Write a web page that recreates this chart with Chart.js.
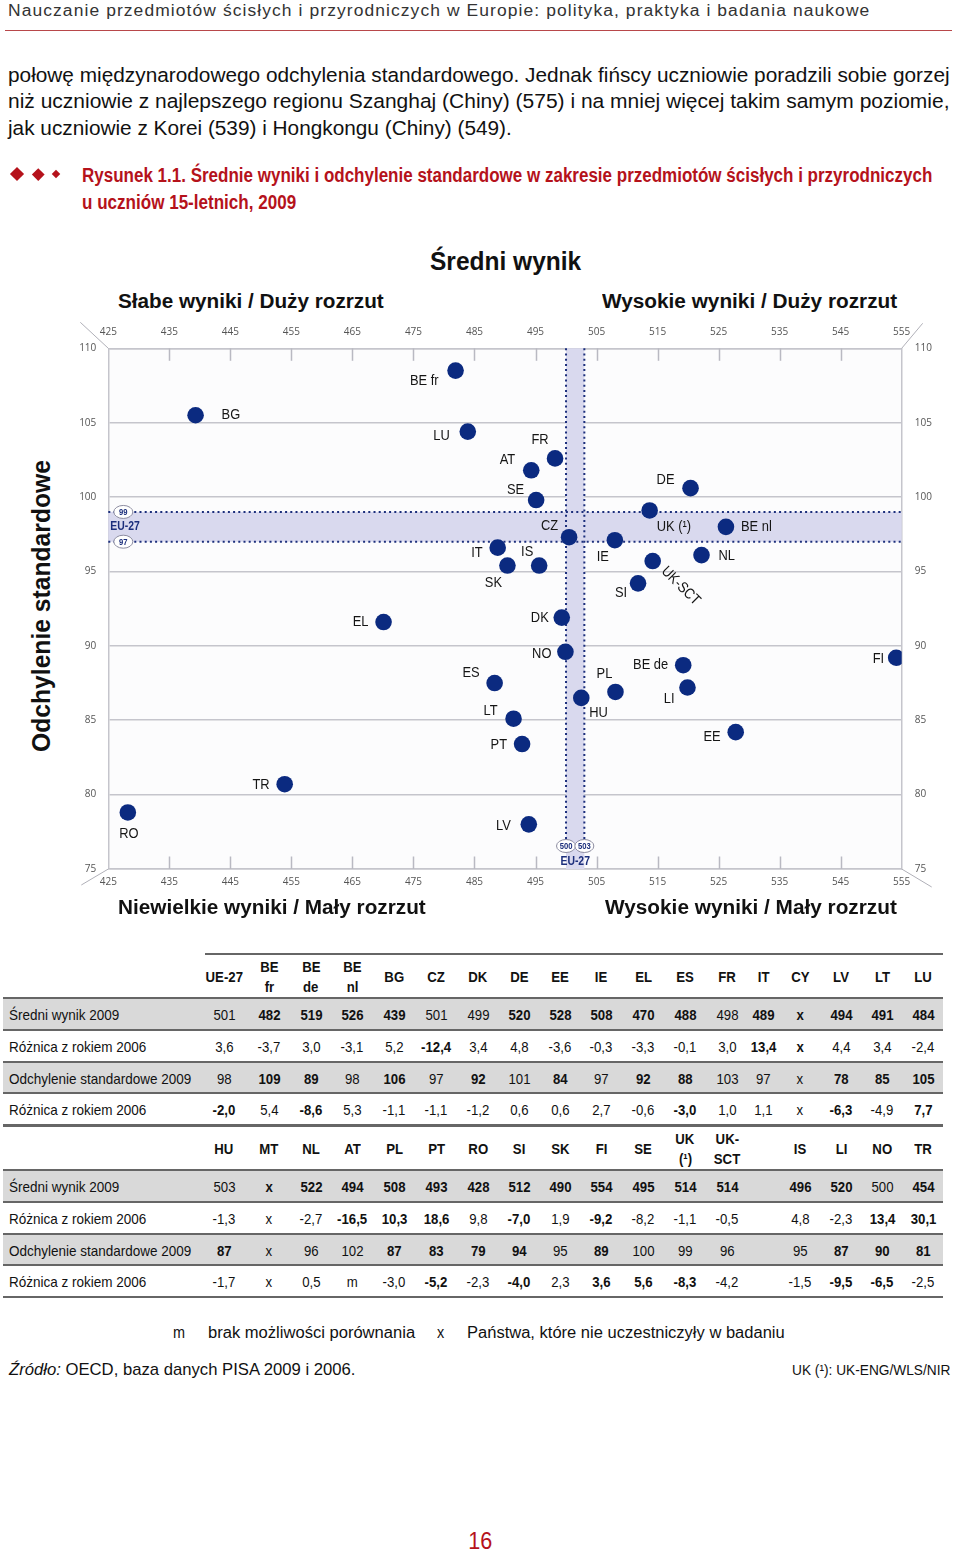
<!DOCTYPE html>
<html><head><meta charset="utf-8">
<script src="https://cdn.jsdelivr.net/npm/chart.js@4.4.1/dist/chart.umd.min.js"></script>
<style>
html,body{margin:0;padding:0;background:#fff;}
body{width:960px;height:1553px;position:relative;overflow:hidden;font-family:"Liberation Sans",Arial,sans-serif;color:#111;}
.t{position:absolute;white-space:nowrap;display:inline-block;}
.ln{position:absolute;}
.dm{position:absolute;background:#b5121b;transform:rotate(45deg);}
#chartWrap{position:absolute;left:60px;top:318px;width:880px;height:580px;}
</style></head><body>
<div id="chartWrap"><canvas id="c" width="880" height="580"></canvas></div>
<script>
// ---------------- DATA ----------------
const countries = ['BE fr','BG','LU','FR','AT','SE','CZ','IT','SK','IS','IE','UK','DE','BE nl','NL','UK-SCT','SI','EL','ES','LT','PT','TR','RO','LV','DK','NO','BE de','LI','PL','HU','EE','FI'];
const meanScore = [481.9,439.3,483.9,498.2,494.3,495.1,500.5,488.8,490.4,495.6,508.0,513.7,520.4,526.2,522.2,514.2,511.8,470.1,488.3,491.4,492.8,453.9,428.2,493.9,499.3,499.9,519.2,519.9,508.1,502.5,527.8,554.1];
const stdDeviation = [108.5,105.5,104.4,102.6,101.8,99.8,97.3,96.6,95.4,95.4,97.1,99.1,100.6,98.0,96.1,95.7,94.2,91.6,87.5,85.1,83.4,80.7,78.8,78.0,91.9,89.6,88.7,87.2,86.9,86.5,84.2,89.2];
const xTickLabels = [425,435,445,455,465,475,485,495,505,515,525,535,545,555];
const yTickLabels = [75,80,85,90,95,100,105,110];
const eu27Mean = [500,503];
const eu27Sd = [97,99];

// table 1
const tab1Cols = ['UE-27','BE\nfr','BE\nde','BE\nnl','BG','CZ','DK','DE','EE','IE','EL','ES','FR','IT','CY','LV','LT','LU'];
const tab1Mean   = ['501','482','519','526','439','501','499','520','528','508','470','488','498','489','x','494','491','484'];
const tab1MeanSig= [0,1,1,1,1,0,0,1,1,1,1,1,0,1,1,1,1,1];
const tab1MeanDiff=['3,6','-3,7','3,0','-3,1','5,2','-12,4','3,4','4,8','-3,6','-0,3','-3,3','-0,1','3,0','13,4','x','4,4','3,4','-2,4'];
const tab1MeanDiffSig=[0,0,0,0,0,1,0,0,0,0,0,0,0,1,1,0,0,0];
const tab1Sd     = ['98','109','89','98','106','97','92','101','84','97','92','88','103','97','x','78','85','105'];
const tab1SdSig  = [0,1,1,0,1,0,1,0,1,0,1,1,0,0,0,1,1,1];
const tab1SdDiff = ['-2,0','5,4','-8,6','5,3','-1,1','-1,1','-1,2','0,6','0,6','2,7','-0,6','-3,0','1,0','1,1','x','-6,3','-4,9','7,7'];
const tab1SdDiffSig=[1,0,1,0,0,0,0,0,0,0,0,1,0,0,0,1,0,1];
// table 2
const tab2Cols = ['HU','MT','NL','AT','PL','PT','RO','SI','SK','FI','SE','UK\n(¹)','UK-\nSCT','','IS','LI','NO','TR'];
const tab2Mean   = ['503','x','522','494','508','493','428','512','490','554','495','514','514','','496','520','500','454'];
const tab2MeanSig= [0,1,1,1,1,1,1,1,1,1,1,1,1,0,1,1,0,1];
const tab2MeanDiff=['-1,3','x','-2,7','-16,5','10,3','18,6','9,8','-7,0','1,9','-9,2','-8,2','-1,1','-0,5','','4,8','-2,3','13,4','30,1'];
const tab2MeanDiffSig=[0,0,0,1,1,1,0,1,0,1,0,0,0,0,0,0,1,1];
const tab2Sd     = ['87','x','96','102','87','83','79','94','95','89','100','99','96','','95','87','90','81'];
const tab2SdSig  = [1,0,0,0,1,1,1,1,0,1,0,0,0,0,0,1,1,1];
const tab2SdDiff = ['-1,7','x','0,5','m','-3,0','-5,2','-2,3','-4,0','2,3','3,6','5,6','-8,3','-4,2','','-1,5','-9,5','-6,5','-2,5'];
const tab2SdDiffSig=[0,0,0,0,0,1,0,1,0,1,1,1,0,0,0,1,1,0];
const rowLabels = ['Średni wynik 2009','Różnica z rokiem 2006','Odchylenie standardowe 2009','Różnica z rokiem 2006'];

// ---------------- LAYOUT (not data) ----------------
const NAVY = '#0b2a80', BANDBLUE = '#1c2f7c', RED = '#b5121b';
// label placement: [dx, dy, align]
const labelPlace = {
 'BE fr':[-17,10,'right'],'BG':[26,0,'left'],'LU':[-18,4,'right'],'FR':[-15,-19,'center'],
 'AT':[-16,-10,'right'],'SE':[-12,-10,'right'],'CZ':[-11,-11,'right'],'IT':[-15,5,'right'],
 'SK':[-14,17,'center'],'IS':[-12,-14,'center'],'IE':[-12,17,'center'],'UK':[7,16,'left'],
 'DE':[-16,-8,'right'],'BE nl':[15,0,'left'],'NL':[17,1,'left'],'UK-SCT':[11,8,'rot'],
 'SI':[-17,10,'center'],'EL':[-15,0,'right'],'ES':[-15,-10,'right'],'LT':[-16,-8,'right'],
 'PT':[-15,1,'right'],'TR':[-15,1,'right'],'RO':[1,21,'center'],'LV':[-18,1,'right'],
 'DK':[-13,0,'right'],'NO':[-14,2,'right'],'BE de':[-15,0,'right'],'LI':[-13,11,'right'],
 'PL':[-11,-18,'center'],'HU':[8,15,'left'],'EE':[-15,5,'right'],'FI':[-12,1,'right']
};
const labelText = {'UK':'UK (¹)'};

// ---------------- TEXT HELPERS ----------------
function put(text, x, y, o) {
  o = o || {};
  const s = document.createElement('span');
  s.className = 't';
  const size = o.size || 16;
  s.style.fontSize = size + 'px';
  s.style.lineHeight = Math.round(size * 1.2) + 'px';
  if (o.weight) s.style.fontWeight = o.weight;
  if (o.color) s.style.color = o.color;
  if (o.ls) s.style.letterSpacing = o.ls + 'px';
  if (o.italic) s.style.fontStyle = 'italic';
  if (o.html) s.innerHTML = text; else s.textContent = text;
  document.body.appendChild(s);
  const w = s.offsetWidth, h = s.offsetHeight;
  const k = o.w ? o.w / w : (o.sx || 1);
  const align = o.align || 'left';
  const left = align === 'left' ? x : align === 'center' ? x - w / 2 : x - w;
  s.style.left = left + 'px';
  s.style.top = (y - h / 2) + 'px';
  s.style.transformOrigin = align === 'left' ? 'left center' : align === 'center' ? 'center center' : 'right center';
  s.style.transform = 'scaleX(' + k + ')';
  return s;
}
function hline(x, y, w, h, c) {
  const d = document.createElement('div');
  d.className = 'ln';
  d.style.left = x + 'px'; d.style.top = y + 'px'; d.style.width = w + 'px'; d.style.height = h + 'px';
  d.style.background = c;
  document.body.appendChild(d);
}

// header
put('Nauczanie przedmiotów ścisłych i przyrodniczych w Europie: polityka, praktyka i badania naukowe', 8, 10, {size:16, color:'#333', ls:1, w:862});
hline(5, 30, 947, 1, '#b8474a');
// paragraph
put('połowę międzynarodowego odchylenia standardowego. Jednak fińscy uczniowie poradzili sobie gorzej', 8, 74, {size:20.5, w:942});
put('niż uczniowie z najlepszego regionu Szanghaj (Chiny) (575) i na mniej więcej takim samym poziomie,', 8, 100, {size:20.5, w:942});
put('jak uczniowie z Korei (539) i Hongkongu (Chiny) (549).', 8, 127, {size:20.5, w:504});
// diamonds
[[17,174,10],[38,174,8.5],[56,174,6]].forEach(d => {
  const e = document.createElement('div'); e.className = 'dm';
  e.style.left = (d[0] - d[2] / 2) + 'px'; e.style.top = (d[1] - d[2] / 2) + 'px';
  e.style.width = d[2] + 'px'; e.style.height = d[2] + 'px';
  document.body.appendChild(e);
});
put('Rysunek 1.1. Średnie wyniki i odchylenie standardowe w zakresie przedmiotów ścisłych i przyrodniczych', 82, 175, {size:20, weight:'bold', color:RED, w:850});
put('u uczniów 15-letnich, 2009', 82, 202, {size:20, weight:'bold', color:RED, w:214});
// chart titles
put('Średni wynik', 430, 261, {size:25, weight:'bold', w:151});
put('Słabe wyniki / Duży rozrzut', 118, 301, {size:20, weight:'bold', w:266});
put('Wysokie wyniki / Duży rozrzut', 602, 301, {size:20, weight:'bold', w:295});
put('Niewielkie wyniki / Mały rozrzut', 118, 907, {size:20, weight:'bold', w:308});
put('Wysokie wyniki / Mały rozrzut', 605, 907, {size:20, weight:'bold', w:292});
// y title
(function(){
  const s = document.createElement('span'); s.className = 't';
  s.style.fontSize = '25px'; s.style.fontWeight = 'bold'; s.style.lineHeight = '30px';
  s.textContent = 'Odchylenie standardowe';
  document.body.appendChild(s);
  const w = s.offsetWidth, h = s.offsetHeight;
  s.style.left = (41 - w / 2) + 'px'; s.style.top = (606 - h / 2) + 'px';
  s.style.transformOrigin = 'center center';
  s.style.transform = 'rotate(-90deg) scaleX(' + (292 / w) + ')';
})();

// ---------------- TABLES ----------------
const colX = [224,269,311,352,394,436,478,519,560,601,643,685,727,763,800,841,882,923];
function buildTable(top, cols, rows, sigs, firstTopFromX) {
  const hdrH = 44, rowH = 31.8;
  hline(firstTopFromX, top - 1, 943 - firstTopFromX, 2, '#666');
  const hy = top + hdrH / 2 + 1;
  cols.forEach((c, i) => {
    if (!c) return;
    const parts = c.split('\n');
    if (parts.length === 1) put(parts[0], colX[i], hy, {size:15, weight:'bold', align:'center', sx:0.88});
    else {
      put(parts[0], colX[i], hy - 10, {size:15, weight:'bold', align:'center', sx:0.88});
      put(parts[1], colX[i], hy + 10, {size:15, weight:'bold', align:'center', sx:0.88});
    }
  });
  let y = top + hdrH;
  rows.forEach((r, ri) => {
    if (ri % 2 === 0) hline(3, y, 940, rowH, '#d9d9d9');
    hline(3, y - 1, 940, 2, '#666');
    const cy = y + rowH / 2 + 1;
    put(rowLabels[ri], 9, cy, {size:15, sx:0.9});
    r.forEach((v, i) => { if (v) put(v, colX[i], cy, {size:15, weight: sigs[ri][i] ? 'bold' : 'normal', align:'center', sx:0.88}); });
    y += rowH;
  });
  hline(3, y - 1, 940, 2, '#666');
}
buildTable(954, tab1Cols, [tab1Mean, tab1MeanDiff, tab1Sd, tab1SdDiff], [tab1MeanSig, tab1MeanDiffSig, tab1SdSig, tab1SdDiffSig], 205);
buildTable(1126, tab2Cols, [tab2Mean, tab2MeanDiff, tab2Sd, tab2SdDiff], [tab2MeanSig, tab2MeanDiffSig, tab2SdSig, tab2SdDiffSig], 3);

// footnotes
put('m', 173, 1332, {size:16, sx:0.9});
put('brak możliwości porównania', 208, 1332, {size:16, w:207});
put('x', 437, 1332, {size:16, sx:0.9});
put('Państwa, które nie uczestniczyły w badaniu', 467, 1332, {size:16, w:318});
put('<i>Źródło:</i> OECD, baza danych PISA 2009 i 2006.', 9, 1370, {size:17, w:346, html:true});
put('UK (¹): UK-ENG/WLS/NIR', 950, 1370, {size:15, w:158, align:'right'});
put('16', 480, 1540, {size:24, color:RED, align:'center', sx:0.9});

// ---------------- CHART ----------------
const tickFont = {family:'"Open Sans", "DejaVu Sans", sans-serif', size:10};
const tickColor = '#555';
const gridC = '#c5c5cc';

const decor = {
  id:'decor',
  beforeDatasetsDraw(chart) {
    const {ctx, chartArea:a, scales:{x, y}} = chart;
    ctx.save();
    ctx.fillStyle = '#d9d9ee';
    const y1 = y.getPixelForValue(eu27Sd[1]), y0 = y.getPixelForValue(eu27Sd[0]);
    ctx.fillRect(a.left, y1, a.right - a.left, y0 - y1);
    const x0 = x.getPixelForValue(eu27Mean[0]), x1 = x.getPixelForValue(eu27Mean[1]);
    ctx.fillRect(x0, a.top, x1 - x0, a.bottom - a.top);
    ctx.strokeStyle = BANDBLUE; ctx.lineWidth = 2; ctx.setLineDash([2, 3.2]);
    [y0, y1].forEach(py => { ctx.beginPath(); ctx.moveTo(a.left, py); ctx.lineTo(a.right, py); ctx.stroke(); });
    [x0, x1].forEach(px => { ctx.beginPath(); ctx.moveTo(px, a.top); ctx.lineTo(px, a.bottom - 30); ctx.stroke(); });
    ctx.setLineDash([]);
    ctx.strokeStyle = '#b9b9c2'; ctx.lineWidth = 1.5;
    xTickLabels.slice(1, -1).forEach(v => {
      const px = Math.round(x.getPixelForValue(v)) + 0.5;
      ctx.beginPath(); ctx.moveTo(px, a.top); ctx.lineTo(px, a.top + 12.5); ctx.stroke();
      ctx.beginPath(); ctx.moveTo(px, a.bottom); ctx.lineTo(px, a.bottom - 12.5); ctx.stroke();
    });
    ctx.strokeStyle = '#b0b0b8'; ctx.lineWidth = 1;
    [[a.left, a.top, -28, -26], [a.right, a.top, 21, -25], [a.left, a.bottom, -27, 16], [a.right, a.bottom, 30, 18]].forEach(d => {
      ctx.beginPath(); ctx.moveTo(d[0], d[1]); ctx.lineTo(d[0] + d[2], d[1] + d[3]); ctx.stroke();
    });
    function oval(cx, cy, txt) {
      ctx.beginPath(); ctx.ellipse(cx, cy, 9.5, 6.5, 0, 0, Math.PI * 2);
      ctx.fillStyle = '#fff'; ctx.fill(); ctx.strokeStyle = '#8c8ca0'; ctx.lineWidth = 1; ctx.stroke();
      ctx.fillStyle = BANDBLUE; ctx.font = 'bold 9px "Liberation Sans", Arial, sans-serif';
      ctx.textAlign = 'center'; ctx.textBaseline = 'middle';
      ctx.save(); ctx.translate(cx, cy + 0.5); ctx.scale(0.85, 1); ctx.fillText(txt, 0, 0); ctx.restore();
    }
    oval(a.left + 15, y1, String(eu27Sd[1]));
    oval(a.left + 15, y0, String(eu27Sd[0]));
    oval(x0, a.bottom - 23, String(eu27Mean[0]));
    oval(x1, a.bottom - 23, String(eu27Mean[1]));
    ctx.fillStyle = BANDBLUE; ctx.font = 'bold 13px "Liberation Sans", Arial, sans-serif';
    ctx.textBaseline = 'middle';
    ctx.save(); ctx.translate(a.left + 2, (y0 + y1) / 2); ctx.scale(0.8, 1); ctx.textAlign = 'left'; ctx.fillText('EU-27', 0, 0); ctx.restore();
    ctx.save(); ctx.translate((x0 + x1) / 2, a.bottom - 8); ctx.scale(0.8, 1); ctx.textAlign = 'center'; ctx.fillText('EU-27', 0, 0); ctx.restore();
    ctx.restore();
  },
  afterDatasetsDraw(chart) {
    const {ctx} = chart;
    const meta = chart.getDatasetMeta(0);
    ctx.save();
    ctx.fillStyle = '#151515';
    ctx.font = '15px "Liberation Sans", Arial, sans-serif';
    ctx.textBaseline = 'middle';
    countries.forEach((c, i) => {
      const p = meta.data[i];
      const pl = labelPlace[c];
      const t = labelText[c] || c;
      ctx.save();
      ctx.translate(p.x + pl[0], p.y + pl[1]);
      if (pl[2] === 'rot') { ctx.rotate(Math.PI / 4); ctx.textAlign = 'left'; }
      else ctx.textAlign = pl[2];
      ctx.scale(0.86, 1);
      ctx.fillText(t, 0, 0);
      ctx.restore();
    });
    ctx.restore();
  }
};

const axisX = (pos, pad, h) => ({
  type:'linear', position:pos, min:xTickLabels[0], max:xTickLabels[xTickLabels.length - 1],
  afterBuildTicks(s) { s.ticks = xTickLabels.map(v => ({value:v})); },
  ticks:{font:tickFont, color:tickColor, padding:pad, autoSkip:false, maxRotation:0},
  grid:{display:false, drawTicks:false},
  border:{display:true, color:gridC, width:1.5},
  afterFit(s) { s.height = h; }
});
const axisY = (pos, pad, w, grid) => ({
  type:'linear', position:pos, min:yTickLabels[0], max:yTickLabels[yTickLabels.length - 1],
  afterBuildTicks(s) { s.ticks = yTickLabels.map(v => ({value:v})); },
  ticks:{font:tickFont, color:tickColor, padding:pad, autoSkip:false},
  grid:{display:grid, drawTicks:false, color:gridC, lineWidth:1.5},
  border:{display:true, color:gridC, width:1.5},
  afterFit(s) { s.width = w; }
});

new Chart(document.getElementById('c'), {
  type:'scatter',
  data:{datasets:[{
    data: countries.map((c, i) => ({x:meanScore[i], y:stdDeviation[i]})),
    backgroundColor:NAVY, borderColor:NAVY, borderWidth:0, pointRadius:8.3, pointHoverRadius:8.3
  }]},
  options:{
    responsive:false, animation:false, events:[],
    layout:{padding:0},
    plugins:{legend:{display:false}, tooltip:{enabled:false}},
    scales:{
      x: axisX('bottom', 7, 29),
      xTop: axisX('top', 10, 30.3),
      y: axisY('left', 12, 48.3, true),
      y2: axisY('right', 13, 38.3, false)
    }
  },
  plugins:[decor, {id:'bg', beforeDraw(chart){const {ctx, chartArea:a}=chart; ctx.save(); ctx.fillStyle='#fcfcfd'; ctx.fillRect(a.left,a.top,a.right-a.left,a.bottom-a.top); ctx.restore();}}]
});
</script>
</body></html>
